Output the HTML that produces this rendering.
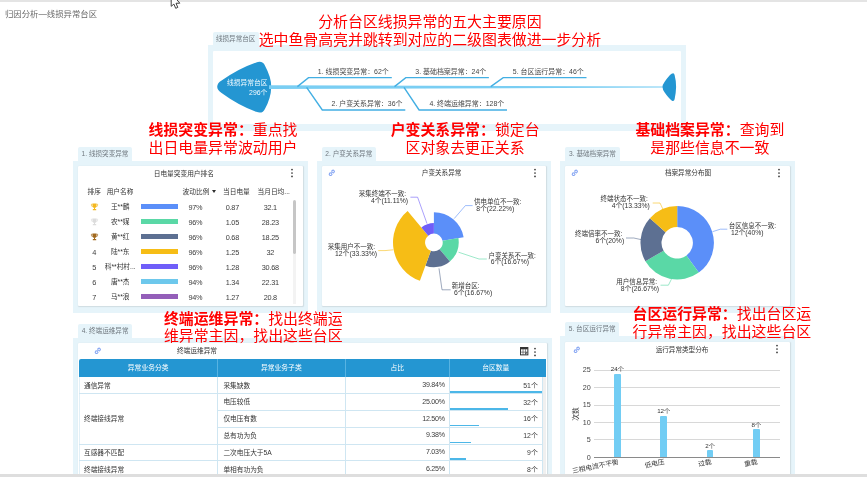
<!DOCTYPE html>
<html lang="zh-CN"><head><meta charset="utf-8"><title>归因分析—线损异常台区</title>
<style>
html,body{margin:0;padding:0}
body{width:867px;height:477px;overflow:hidden;background:#fff;position:relative;font-family:"Liberation Sans","Noto Sans CJK SC",sans-serif}
.t{position:absolute;white-space:nowrap;line-height:1}
.tab{position:absolute;background:#e6f4fa;border-radius:2px 2px 0 0}
.pan{position:absolute;background:#e6f4fa}
.card{position:absolute;background:#fff;border-radius:1px;box-shadow:0.4px 0.4px 1.2px rgba(0,0,0,.10)}
.ic{position:absolute;overflow:visible}
.red{position:absolute;color:#ff0000;font-size:14.9px;line-height:17.8px;white-space:nowrap;text-align:center}
.red b{font-weight:700}
svg{position:absolute;left:0;top:0}
svg text{font-family:"Liberation Sans","Noto Sans CJK SC",sans-serif}
.row{position:absolute;left:79px;height:1px;background:#cfe6f2}
</style></head><body>

<div style="position:absolute;left:0;top:0;width:867px;height:2.3px;background:#e4e4e4"></div>
<div class="t" style="left:5px;top:14.2px;font-size:8.4px;color:#6a6a6a;transform:translate(0,-50%);">归因分析—线损异常台区</div>
<svg width="13" height="11" style="left:169px;top:0" viewBox="0 0 13 11"><path d="M2.2 -7L2.2 6.3L4.9 4.1L6.7 8.3L8.8 7.4L7 3.3L10.8 3.2Z" fill="#fff" stroke="#3a3a3a" stroke-width="0.95"/></svg>
<div class="tab" style="left:212.6px;top:32px;width:46.20000000000002px;height:14.25px"></div>
<div class="t" style="left:235.7px;top:38.925px;font-size:6.6px;color:#70787f;transform:translate(-50%,-50%);">线损异常台区</div>
<div class="pan" style="left:208px;top:45.25px;width:477.70000000000005px;height:85.75px"></div>
<div class="card" style="left:213px;top:50.8px;width:467.65px;height:73.10000000000001px;box-shadow:none"></div>
<svg width="867" height="477" viewBox="0 0 867 477">
<path d="M217.2 86.8 Q217.3 83.2 221.6 80.6 Q238.5 68.6 256.2 62.5 Q262.6 60.3 264.9 65.6 Q271.5 78 271.2 87.2 Q271 98 264.9 108.9 Q262.6 114.2 256.2 111.8 Q238.5 105.4 221.6 93 Q217.3 90.4 217.2 86.8Z" fill="#2496d2"/>
<path d="M269 85.2L663 86.6L663 87.6L269 89Z" fill="#7acef3"/>
<path d="M662.5 87.1 Q662.6 84.5 664.5 82 Q668.5 76 671.6 73.8 Q674 72.2 674.6 75 Q676.2 81 676.1 87.1 Q676 93 674.6 99.2 Q674 102 671.6 100.4 Q668.5 98 664.5 92.2 Q662.6 89.7 662.5 87.1Z" fill="#2496d2"/>
<polyline points="297.4,86.6 308.5,77.6 391.8,77.6" fill="none" stroke="#43afe3" stroke-width="1.4"/>
<polyline points="394.5,86.6 405.8,77.6 488.9,77.6" fill="none" stroke="#43afe3" stroke-width="1.4"/>
<polyline points="490.7,86.6 503.2,77.6 586.5,77.6" fill="none" stroke="#43afe3" stroke-width="1.4"/>
<polyline points="306.6,87.4 322.3,110 405.3,110" fill="none" stroke="#43afe3" stroke-width="1.4"/>
<polyline points="404,87.4 419.1,110 507,110" fill="none" stroke="#43afe3" stroke-width="1.4"/>
</svg>
<div class="t" style="left:267.5px;top:82.6px;font-size:6.75px;color:#f4fbff;transform:translate(-100%,-50%);">线损异常台区</div>
<div class="t" style="left:267.5px;top:92.8px;font-size:6.9px;color:#f4fbff;transform:translate(-100%,-50%);">296个</div>
<div class="t" style="left:353.3px;top:71.5px;font-size:6.95px;color:#474747;transform:translate(-50%,-50%);">1. 线损突变异常：62个</div>
<div class="t" style="left:450.8px;top:71.5px;font-size:6.95px;color:#474747;transform:translate(-50%,-50%);">3. 基础档案异常：24个</div>
<div class="t" style="left:548.3px;top:71.5px;font-size:6.95px;color:#474747;transform:translate(-50%,-50%);">5. 台区运行异常：46个</div>
<div class="t" style="left:367px;top:104.3px;font-size:6.95px;color:#474747;transform:translate(-50%,-50%);">2. 户变关系异常：36个</div>
<div class="t" style="left:466.8px;top:104.3px;font-size:6.95px;color:#474747;transform:translate(-50%,-50%);">4. 终端运维异常：128个</div>
<div class="tab" style="left:78px;top:147.2px;width:54px;height:14.350000000000023px"></div>
<div class="t" style="left:105.0px;top:154.175px;font-size:6.6px;color:#70787f;transform:translate(-50%,-50%);">1. 线损突变异常</div>
<div class="pan" style="left:73px;top:160.55px;width:235px;height:152.2px"></div>
<div class="card" style="left:78px;top:165.9px;width:225.3px;height:139.65px"></div>
<div class="t" style="left:183.8px;top:173.5px;font-size:6.7px;color:#333;transform:translate(-50%,-50%);">日电量突变用户排名</div>
<svg class="ic" style="left:289.7px;top:168.2px" width="4" height="10" viewBox="0 0 4 10"><circle cx="2" cy="1.6" r="0.85" fill="#333"/><circle cx="2" cy="5" r="0.85" fill="#333"/><circle cx="2" cy="8.4" r="0.85" fill="#333"/></svg>
<div class="t" style="left:94.3px;top:192.3px;font-size:6.7px;color:#333;transform:translate(-50%,-50%);">排序</div>
<div class="t" style="left:120px;top:192.3px;font-size:6.7px;color:#333;transform:translate(-50%,-50%);">用户名称</div>
<div class="t" style="left:182.6px;top:192.3px;font-size:6.7px;color:#333;transform:translate(0,-50%);">波动比例</div>
<div style="position:absolute;left:211.7px;top:189.9px;width:0;height:0;border-left:2.6px solid transparent;border-right:2.6px solid transparent;border-top:3.2px solid #2e2e2e"></div>
<div class="t" style="left:236.4px;top:192.3px;font-size:6.7px;color:#333;transform:translate(-50%,-50%);">当日电量</div>
<div class="t" style="left:273.7px;top:192.3px;font-size:6.7px;color:#333;transform:translate(-50%,-50%);">当月日均...</div>
<svg class="ic" style="left:90.9px;top:202.8px" width="7" height="8" viewBox="0 0 14 16"><path d="M3 1h8v5a4 4 0 0 1-8 0z" fill="#f4b81f"/><path d="M3 2.5H0.8v2a2.6 2.6 0 0 0 2.6 2.6M11 2.5h2.2v2a2.6 2.6 0 0 1-2.6 2.6" fill="none" stroke="#f4b81f" stroke-width="1.4"/><rect x="6" y="9.5" width="2" height="3" fill="#f4b81f"/><rect x="3.5" y="12.2" width="7" height="2.3" rx="0.6" fill="#f4b81f"/></svg>
<div class="t" style="left:120.2px;top:206.8px;font-size:6.7px;color:#333;transform:translate(-50%,-50%);">王**麟</div>
<div style="position:absolute;left:140.6px;top:204.4px;width:37.8px;height:5px;background:#5b8ff9"></div>
<div class="t" style="left:195.4px;top:207.60000000000002px;font-size:7.3px;color:#3c3c3c;transform:translate(-50%,-50%);letter-spacing:-0.25px;">97%</div>
<div class="t" style="left:232.4px;top:207.60000000000002px;font-size:7.3px;color:#3c3c3c;transform:translate(-50%,-50%);letter-spacing:-0.25px;">0.87</div>
<div class="t" style="left:270.3px;top:207.60000000000002px;font-size:7.3px;color:#3c3c3c;transform:translate(-50%,-50%);letter-spacing:-0.25px;">32.1</div>
<svg class="ic" style="left:90.9px;top:217.8px" width="7" height="8" viewBox="0 0 14 16"><path d="M3 1h8v5a4 4 0 0 1-8 0z" fill="#dcdcdc"/><path d="M3 2.5H0.8v2a2.6 2.6 0 0 0 2.6 2.6M11 2.5h2.2v2a2.6 2.6 0 0 1-2.6 2.6" fill="none" stroke="#dcdcdc" stroke-width="1.4"/><rect x="6" y="9.5" width="2" height="3" fill="#dcdcdc"/><rect x="3.5" y="12.2" width="7" height="2.3" rx="0.6" fill="#dcdcdc"/></svg>
<div class="t" style="left:120.2px;top:221.8px;font-size:6.7px;color:#333;transform:translate(-50%,-50%);">农**媒</div>
<div style="position:absolute;left:140.6px;top:219.4px;width:37.8px;height:5px;background:#5ad8a6"></div>
<div class="t" style="left:195.4px;top:222.60000000000002px;font-size:7.3px;color:#3c3c3c;transform:translate(-50%,-50%);letter-spacing:-0.25px;">96%</div>
<div class="t" style="left:232.4px;top:222.60000000000002px;font-size:7.3px;color:#3c3c3c;transform:translate(-50%,-50%);letter-spacing:-0.25px;">1.05</div>
<div class="t" style="left:270.3px;top:222.60000000000002px;font-size:7.3px;color:#3c3c3c;transform:translate(-50%,-50%);letter-spacing:-0.25px;">28.23</div>
<svg class="ic" style="left:90.9px;top:232.8px" width="7" height="8" viewBox="0 0 14 16"><path d="M3 1h8v5a4 4 0 0 1-8 0z" fill="#a2691d"/><path d="M3 2.5H0.8v2a2.6 2.6 0 0 0 2.6 2.6M11 2.5h2.2v2a2.6 2.6 0 0 1-2.6 2.6" fill="none" stroke="#a2691d" stroke-width="1.4"/><rect x="6" y="9.5" width="2" height="3" fill="#a2691d"/><rect x="3.5" y="12.2" width="7" height="2.3" rx="0.6" fill="#a2691d"/></svg>
<div class="t" style="left:120.2px;top:236.8px;font-size:6.7px;color:#333;transform:translate(-50%,-50%);">黄**红</div>
<div style="position:absolute;left:140.6px;top:234.4px;width:37.8px;height:5px;background:#5d7092"></div>
<div class="t" style="left:195.4px;top:237.60000000000002px;font-size:7.3px;color:#3c3c3c;transform:translate(-50%,-50%);letter-spacing:-0.25px;">96%</div>
<div class="t" style="left:232.4px;top:237.60000000000002px;font-size:7.3px;color:#3c3c3c;transform:translate(-50%,-50%);letter-spacing:-0.25px;">0.68</div>
<div class="t" style="left:270.3px;top:237.60000000000002px;font-size:7.3px;color:#3c3c3c;transform:translate(-50%,-50%);letter-spacing:-0.25px;">18.25</div>
<div class="t" style="left:94.4px;top:252.60000000000002px;font-size:7.4px;color:#3c3c3c;transform:translate(-50%,-50%);">4</div>
<div class="t" style="left:120.2px;top:251.8px;font-size:6.7px;color:#333;transform:translate(-50%,-50%);">陆**东</div>
<div style="position:absolute;left:140.6px;top:249.4px;width:37.8px;height:5px;background:#f6bd16"></div>
<div class="t" style="left:195.4px;top:252.60000000000002px;font-size:7.3px;color:#3c3c3c;transform:translate(-50%,-50%);letter-spacing:-0.25px;">96%</div>
<div class="t" style="left:232.4px;top:252.60000000000002px;font-size:7.3px;color:#3c3c3c;transform:translate(-50%,-50%);letter-spacing:-0.25px;">1.25</div>
<div class="t" style="left:270.3px;top:252.60000000000002px;font-size:7.3px;color:#3c3c3c;transform:translate(-50%,-50%);letter-spacing:-0.25px;">32</div>
<div class="t" style="left:94.4px;top:267.6px;font-size:7.4px;color:#3c3c3c;transform:translate(-50%,-50%);">5</div>
<div class="t" style="left:120.2px;top:266.8px;font-size:6.7px;color:#333;transform:translate(-50%,-50%);">科**村村...</div>
<div style="position:absolute;left:140.6px;top:264.40000000000003px;width:37.8px;height:5px;background:#6f5ef9"></div>
<div class="t" style="left:195.4px;top:267.6px;font-size:7.3px;color:#3c3c3c;transform:translate(-50%,-50%);letter-spacing:-0.25px;">96%</div>
<div class="t" style="left:232.4px;top:267.6px;font-size:7.3px;color:#3c3c3c;transform:translate(-50%,-50%);letter-spacing:-0.25px;">1.28</div>
<div class="t" style="left:270.3px;top:267.6px;font-size:7.3px;color:#3c3c3c;transform:translate(-50%,-50%);letter-spacing:-0.25px;">30.68</div>
<div class="t" style="left:94.4px;top:282.6px;font-size:7.4px;color:#3c3c3c;transform:translate(-50%,-50%);">6</div>
<div class="t" style="left:120.2px;top:281.8px;font-size:6.7px;color:#333;transform:translate(-50%,-50%);">唐**杰</div>
<div style="position:absolute;left:140.6px;top:279.40000000000003px;width:37.8px;height:5px;background:#6dc8ec"></div>
<div class="t" style="left:195.4px;top:282.6px;font-size:7.3px;color:#3c3c3c;transform:translate(-50%,-50%);letter-spacing:-0.25px;">94%</div>
<div class="t" style="left:232.4px;top:282.6px;font-size:7.3px;color:#3c3c3c;transform:translate(-50%,-50%);letter-spacing:-0.25px;">1.34</div>
<div class="t" style="left:270.3px;top:282.6px;font-size:7.3px;color:#3c3c3c;transform:translate(-50%,-50%);letter-spacing:-0.25px;">22.31</div>
<div class="t" style="left:94.4px;top:297.6px;font-size:7.4px;color:#3c3c3c;transform:translate(-50%,-50%);">7</div>
<div class="t" style="left:120.2px;top:296.8px;font-size:6.7px;color:#333;transform:translate(-50%,-50%);">马**浪</div>
<div style="position:absolute;left:140.6px;top:294.40000000000003px;width:37.8px;height:5px;background:#945fb9"></div>
<div class="t" style="left:195.4px;top:297.6px;font-size:7.3px;color:#3c3c3c;transform:translate(-50%,-50%);letter-spacing:-0.25px;">94%</div>
<div class="t" style="left:232.4px;top:297.6px;font-size:7.3px;color:#3c3c3c;transform:translate(-50%,-50%);letter-spacing:-0.25px;">1.27</div>
<div class="t" style="left:270.3px;top:297.6px;font-size:7.3px;color:#3c3c3c;transform:translate(-50%,-50%);letter-spacing:-0.25px;">20.8</div>
<div style="position:absolute;left:292.8px;top:199.6px;width:3.3px;height:54px;background:#c6c6c6;border-radius:1.6px"></div>
<div style="position:absolute;left:292.8px;top:253.6px;width:3.3px;height:50px;background:#f3f3f3"></div>
<div class="tab" style="left:321.7px;top:147.2px;width:54.19999999999999px;height:14.350000000000023px"></div>
<div class="t" style="left:348.79999999999995px;top:154.175px;font-size:6.6px;color:#70787f;transform:translate(-50%,-50%);">2. 户变关系异常</div>
<div class="pan" style="left:316.7px;top:160.55px;width:234.09999999999997px;height:152.2px"></div>
<div class="card" style="left:321.5px;top:165.9px;width:224.89999999999998px;height:139.65px"></div>
<svg class="ic" style="left:328.4px;top:169.20000000000002px" width="7.6" height="7.6" viewBox="0 0 16 16"><g fill="none" stroke="#86a6f3" stroke-width="2.3" stroke-linecap="round"><path d="M6.5 9.5L9.5 6.5"/><path d="M7.5 4.5l1.3-1.3a2.6 2.6 0 0 1 3.8 3.8L11.3 8.3"/><path d="M8.5 11.5l-1.3 1.3a2.6 2.6 0 0 1-3.8-3.8L4.7 7.7"/></g></svg>
<svg class="ic" style="left:533px;top:167.8px" width="4" height="10" viewBox="0 0 4 10"><circle cx="2" cy="1.6" r="0.85" fill="#333"/><circle cx="2" cy="5" r="0.85" fill="#333"/><circle cx="2" cy="8.4" r="0.85" fill="#333"/></svg>
<div class="t" style="left:441.6px;top:173px;font-size:6.6px;color:#333;transform:translate(-50%,-50%);">户变关系异常</div>
<svg width="867" height="477" viewBox="0 0 867 477">
<path d="M433.90 212.20A30.20 30.20 0 0 1 463.64 237.16L442.57 240.87A8.80 8.80 0 0 0 433.90 233.60Z" fill="#5b8ff9"/>
<path d="M458.37 238.08A24.85 24.85 0 0 1 449.87 261.44L439.56 249.14A8.80 8.80 0 0 0 442.57 240.87Z" fill="#5ad8a6"/>
<path d="M449.87 261.44A24.85 24.85 0 0 1 425.40 265.75L430.89 250.67A8.80 8.80 0 0 0 439.56 249.14Z" fill="#5d7092"/>
<path d="M419.91 280.83A40.90 40.90 0 0 1 407.61 211.07L428.24 235.66A8.80 8.80 0 0 0 430.89 250.67Z" fill="#f6bd16"/>
<path d="M421.37 227.46A19.50 19.50 0 0 1 433.90 222.90L433.90 233.60A8.80 8.80 0 0 0 428.24 235.66Z" fill="#6f5ef9"/>
<polyline points="454.2,218.6 465.4,205.6 472.6,205.6" fill="none" stroke="#5b8ff9" stroke-width="0.7" opacity="0.85"/>
<polyline points="458.5,252.2 479,259 486.8,259" fill="none" stroke="#5ad8a6" stroke-width="0.7" opacity="0.85"/>
<polyline points="439,268.4 442,289.8 450.6,289.8" fill="none" stroke="#5d7092" stroke-width="0.7" opacity="0.85"/>
<polyline points="393.3,249.8 385,250.6 378.2,250.6" fill="none" stroke="#f6bd16" stroke-width="0.7" opacity="0.85"/>
<polyline points="427,223.6 417.6,197.2 410.4,197.2" fill="none" stroke="#6f5ef9" stroke-width="0.7" opacity="0.85"/>
</svg>
<div class="t" style="left:474px;top:199.39999999999998px;font-size:6.5px;line-height:6.8px;color:#333;text-align:left;transform:translate(0,0)"><span style="">供电单位不一致:</span><br><span style="font-size:6.8px;padding-left:2.2px">8个(22.22%)</span></div>
<div class="t" style="left:488.6px;top:252.6px;font-size:6.5px;line-height:6.8px;color:#333;text-align:left;transform:translate(0,0)"><span style="">户变关系不一致:</span><br><span style="font-size:6.8px;padding-left:2.2px">6个(16.67%)</span></div>
<div class="t" style="left:451.8px;top:283.3px;font-size:6.5px;line-height:6.8px;color:#333;text-align:left;transform:translate(0,0)"><span style="">新增台区:</span><br><span style="font-size:6.8px;padding-left:2.2px">6个(16.67%)</span></div>
<div class="t" style="left:377px;top:244.0px;font-size:6.5px;line-height:6.8px;color:#333;text-align:right;transform:translate(-100%,0)"><span style="padding-right:2px">采集用户不一致:</span><br><span style="font-size:6.8px;">12个(33.33%)</span></div>
<div class="t" style="left:408.1px;top:190.89999999999998px;font-size:6.5px;line-height:6.8px;color:#333;text-align:right;transform:translate(-100%,0)"><span style="padding-right:2px">采集终端不一致:</span><br><span style="font-size:6.8px;">4个(11.11%)</span></div>
<div class="tab" style="left:565.4px;top:147.2px;width:54.200000000000045px;height:14.350000000000023px"></div>
<div class="t" style="left:592.5px;top:154.175px;font-size:6.6px;color:#70787f;transform:translate(-50%,-50%);">3. 基础档案异常</div>
<div class="pan" style="left:560.4px;top:160.55px;width:234.60000000000002px;height:152.2px"></div>
<div class="card" style="left:565.1px;top:165.9px;width:225.19999999999993px;height:139.65px"></div>
<svg class="ic" style="left:571.4px;top:169.4px" width="7.6" height="7.6" viewBox="0 0 16 16"><g fill="none" stroke="#86a6f3" stroke-width="2.3" stroke-linecap="round"><path d="M6.5 9.5L9.5 6.5"/><path d="M7.5 4.5l1.3-1.3a2.6 2.6 0 0 1 3.8 3.8L11.3 8.3"/><path d="M8.5 11.5l-1.3 1.3a2.6 2.6 0 0 1-3.8-3.8L4.7 7.7"/></g></svg>
<svg class="ic" style="left:776.5px;top:168px" width="4" height="10" viewBox="0 0 4 10"><circle cx="2" cy="1.6" r="0.85" fill="#333"/><circle cx="2" cy="5" r="0.85" fill="#333"/><circle cx="2" cy="8.4" r="0.85" fill="#333"/></svg>
<div class="t" style="left:688px;top:173.3px;font-size:6.6px;color:#333;transform:translate(-50%,-50%);">档案异常分布图</div>
<svg width="867" height="477" viewBox="0 0 867 477">
<path d="M677.20 206.10A36.70 36.70 0 0 1 698.77 272.49L686.43 255.50A15.70 15.70 0 0 0 677.20 227.10Z" fill="#5b8ff9"/>
<path d="M698.77 272.49A36.70 36.70 0 0 1 645.42 261.15L663.60 250.65A15.70 15.70 0 0 0 686.43 255.50Z" fill="#5ad8a6"/>
<path d="M645.42 261.15A36.70 36.70 0 0 1 649.93 218.24L665.53 232.29A15.70 15.70 0 0 0 663.60 250.65Z" fill="#5d7092"/>
<path d="M649.93 218.24A36.70 36.70 0 0 1 677.20 206.10L677.20 227.10A15.70 15.70 0 0 0 665.53 232.29Z" fill="#f6bd16"/>
<polyline points="712.5,231.7 720.3,229.2 727.3,229.2" fill="none" stroke="#5b8ff9" stroke-width="0.7" opacity="0.85"/>
<polyline points="671.5,279 668.4,285.2 660.5,285.2" fill="none" stroke="#5ad8a6" stroke-width="0.7" opacity="0.85"/>
<polyline points="641,239.6 633.8,238 626,238" fill="none" stroke="#5d7092" stroke-width="0.7" opacity="0.85"/>
<polyline points="663,209.4 660,203 652.7,203" fill="none" stroke="#f6bd16" stroke-width="0.7" opacity="0.85"/>
</svg>
<div class="t" style="left:728.8px;top:223.0px;font-size:6.5px;line-height:6.8px;color:#333;text-align:left;transform:translate(0,0)"><span style="">台区信息不一致:</span><br><span style="font-size:6.8px;padding-left:2.2px">12个(40%)</span></div>
<div class="t" style="left:659px;top:278.8px;font-size:6.5px;line-height:6.8px;color:#333;text-align:right;transform:translate(-100%,0)"><span style="padding-right:2px">用户信息异常:</span><br><span style="font-size:6.8px;">8个(26.67%)</span></div>
<div class="t" style="left:624.2px;top:231.29999999999998px;font-size:6.5px;line-height:6.8px;color:#333;text-align:right;transform:translate(-100%,0)"><span style="padding-right:2px">终端倍率不一致:</span><br><span style="font-size:6.8px;">6个(20%)</span></div>
<div class="t" style="left:649.8px;top:195.89999999999998px;font-size:6.5px;line-height:6.8px;color:#333;text-align:right;transform:translate(-100%,0)"><span style="padding-right:2px">终端状态不一致:</span><br><span style="font-size:6.8px;">4个(13.33%)</span></div>
<div class="tab" style="left:78px;top:324px;width:54.19999999999999px;height:14.600000000000023px"></div>
<div class="t" style="left:105.1px;top:331.1px;font-size:6.6px;color:#70787f;transform:translate(-50%,-50%);">4. 终端运维异常</div>
<div class="pan" style="left:73px;top:337.6px;width:478.79999999999995px;height:142.39999999999998px"></div>
<div class="card" style="left:78.3px;top:343.2px;width:468.59999999999997px;height:136.8px"></div>
<svg class="ic" style="left:94.30000000000001px;top:347.29999999999995px" width="7.6" height="7.6" viewBox="0 0 16 16"><g fill="none" stroke="#86a6f3" stroke-width="2.3" stroke-linecap="round"><path d="M6.5 9.5L9.5 6.5"/><path d="M7.5 4.5l1.3-1.3a2.6 2.6 0 0 1 3.8 3.8L11.3 8.3"/><path d="M8.5 11.5l-1.3 1.3a2.6 2.6 0 0 1-3.8-3.8L4.7 7.7"/></g></svg>
<div class="t" style="left:197px;top:351px;font-size:6.7px;color:#333;transform:translate(-50%,-50%);">终端运维异常</div>
<svg class="ic" style="left:533.3px;top:346.5px" width="4" height="10" viewBox="0 0 4 10"><circle cx="2" cy="1.6" r="0.85" fill="#333"/><circle cx="2" cy="5" r="0.85" fill="#333"/><circle cx="2" cy="8.4" r="0.85" fill="#333"/></svg>
<svg class="ic" style="left:519.6px;top:347.4px" width="8.4" height="8.4" viewBox="0 0 16 16"><rect x="1" y="1" width="14" height="14" fill="none" stroke="#333" stroke-width="1.9"/><rect x="1" y="1" width="14" height="3.4" fill="#333"/><path d="M1 9.8H15M5.8 4V15M10.4 4V15" stroke="#444" stroke-width="1.2" fill="none"/><path d="M9.5 12.2h3.2v-2.6" stroke="#333" stroke-width="1.3" fill="none"/></svg>
<div style="position:absolute;left:79px;top:358.7px;width:466.7px;height:18.1px;background:#2496d2;border-radius:2px 0 0 0"></div>
<div style="position:absolute;left:542.2px;top:376.8px;width:3.5px;height:100px;background:#f0f0f0"></div>
<div style="position:absolute;left:216.9px;top:358.7px;width:1px;height:18.1px;background:#57b3e2"></div>
<div style="position:absolute;left:216.9px;top:376.8px;width:1px;height:100px;background:#cfe6f2"></div>
<div style="position:absolute;left:344.7px;top:358.7px;width:1px;height:18.1px;background:#57b3e2"></div>
<div style="position:absolute;left:344.7px;top:376.8px;width:1px;height:100px;background:#cfe6f2"></div>
<div style="position:absolute;left:449.0px;top:358.7px;width:1px;height:18.1px;background:#57b3e2"></div>
<div style="position:absolute;left:449.0px;top:376.8px;width:1px;height:100px;background:#cfe6f2"></div>
<div style="position:absolute;left:78.6px;top:376.8px;width:1px;height:100px;background:#e2f0f7"></div>
<div style="position:absolute;left:541.7px;top:376.8px;width:1px;height:100px;background:#cfe6f2"></div>
<div class="t" style="left:148.2px;top:367.5px;font-size:6.8px;color:#fff;transform:translate(-50%,-50%);">异常业务分类</div>
<div class="t" style="left:281.3px;top:367.5px;font-size:6.8px;color:#fff;transform:translate(-50%,-50%);">异常业务子类</div>
<div class="t" style="left:397.3px;top:367.5px;font-size:6.8px;color:#fff;transform:translate(-50%,-50%);">占比</div>
<div class="t" style="left:495.8px;top:367.5px;font-size:6.8px;color:#fff;transform:translate(-50%,-50%);">台区数量</div>
<div class="row" style="left:79px;top:393.1px;width:463.20000000000005px"></div>
<div class="row" style="left:217.4px;top:409.90000000000003px;width:324.80000000000007px"></div>
<div class="row" style="left:217.4px;top:426.70000000000005px;width:324.80000000000007px"></div>
<div class="row" style="left:79px;top:443.5px;width:463.20000000000005px"></div>
<div class="row" style="left:79px;top:460.3px;width:463.20000000000005px"></div>
<div class="t" style="left:223.4px;top:385.6px;font-size:6.7px;color:#333;transform:translate(0,-50%);">采集缺数</div>
<div class="t" style="left:444.8px;top:385.90000000000003px;font-size:7.1px;color:#3c3c3c;transform:translate(-100%,-50%);letter-spacing:-0.25px;">39.84%</div>
<div class="t" style="left:537.8px;top:385.8px;font-size:6.9px;color:#3c3c3c;transform:translate(-100%,-50%);">51个</div>
<div style="position:absolute;left:449.5px;top:391.20000000000005px;width:92.4px;height:1.6px;background:#4cb7e8"></div>
<div class="t" style="left:223.4px;top:402.40000000000003px;font-size:6.7px;color:#333;transform:translate(0,-50%);">电压较低</div>
<div class="t" style="left:444.8px;top:402.70000000000005px;font-size:7.1px;color:#3c3c3c;transform:translate(-100%,-50%);letter-spacing:-0.25px;">25.00%</div>
<div class="t" style="left:537.8px;top:402.6px;font-size:6.9px;color:#3c3c3c;transform:translate(-100%,-50%);">32个</div>
<div style="position:absolute;left:449.5px;top:408.00000000000006px;width:58.0px;height:1.6px;background:#4cb7e8"></div>
<div class="t" style="left:223.4px;top:419.20000000000005px;font-size:6.7px;color:#333;transform:translate(0,-50%);">仅电压有数</div>
<div class="t" style="left:444.8px;top:419.50000000000006px;font-size:7.1px;color:#3c3c3c;transform:translate(-100%,-50%);letter-spacing:-0.25px;">12.50%</div>
<div class="t" style="left:537.8px;top:419.40000000000003px;font-size:6.9px;color:#3c3c3c;transform:translate(-100%,-50%);">16个</div>
<div style="position:absolute;left:449.5px;top:424.80000000000007px;width:29.0px;height:1.6px;background:#4cb7e8"></div>
<div class="t" style="left:223.4px;top:436.00000000000006px;font-size:6.7px;color:#333;transform:translate(0,-50%);">总有功为负</div>
<div class="t" style="left:444.8px;top:436.30000000000007px;font-size:7.1px;color:#3c3c3c;transform:translate(-100%,-50%);letter-spacing:-0.25px;">9.38%</div>
<div class="t" style="left:537.8px;top:436.20000000000005px;font-size:6.9px;color:#3c3c3c;transform:translate(-100%,-50%);">12个</div>
<div style="position:absolute;left:449.5px;top:441.6px;width:21.7px;height:1.6px;background:#4cb7e8"></div>
<div class="t" style="left:223.4px;top:452.8px;font-size:6.7px;color:#333;transform:translate(0,-50%);">二次电压大于5A</div>
<div class="t" style="left:444.8px;top:453.1px;font-size:7.1px;color:#3c3c3c;transform:translate(-100%,-50%);letter-spacing:-0.25px;">7.03%</div>
<div class="t" style="left:537.8px;top:453.0px;font-size:6.9px;color:#3c3c3c;transform:translate(-100%,-50%);">9个</div>
<div style="position:absolute;left:449.5px;top:458.40000000000003px;width:16.3px;height:1.6px;background:#4cb7e8"></div>
<div class="t" style="left:223.4px;top:469.6px;font-size:6.7px;color:#333;transform:translate(0,-50%);">单相有功为负</div>
<div class="t" style="left:444.8px;top:469.90000000000003px;font-size:7.1px;color:#3c3c3c;transform:translate(-100%,-50%);letter-spacing:-0.25px;">6.25%</div>
<div class="t" style="left:537.8px;top:469.8px;font-size:6.9px;color:#3c3c3c;transform:translate(-100%,-50%);">8个</div>
<div style="position:absolute;left:449.5px;top:475.20000000000005px;width:14.5px;height:1.6px;background:#4cb7e8"></div>
<div class="t" style="left:84px;top:385.6px;font-size:6.7px;color:#333;transform:translate(0,-50%);">通信异常</div>
<div class="t" style="left:84px;top:419.2px;font-size:6.7px;color:#333;transform:translate(0,-50%);">终端接线异常</div>
<div class="t" style="left:84px;top:452.8px;font-size:6.7px;color:#333;transform:translate(0,-50%);">互感器不匹配</div>
<div class="t" style="left:84px;top:469.6px;font-size:6.7px;color:#333;transform:translate(0,-50%);">终端接线异常</div>
<div class="tab" style="left:565.2px;top:322.2px;width:54.0px;height:14.5px"></div>
<div class="t" style="left:592.2px;top:329.25px;font-size:6.6px;color:#70787f;transform:translate(-50%,-50%);">5. 台区运行异常</div>
<div class="pan" style="left:560.4px;top:335.7px;width:234.60000000000002px;height:144.3px"></div>
<div class="card" style="left:565.1px;top:341.5px;width:225.10000000000002px;height:138.5px"></div>
<svg class="ic" style="left:572.6px;top:346.09999999999997px" width="7.6" height="7.6" viewBox="0 0 16 16"><g fill="none" stroke="#86a6f3" stroke-width="2.3" stroke-linecap="round"><path d="M6.5 9.5L9.5 6.5"/><path d="M7.5 4.5l1.3-1.3a2.6 2.6 0 0 1 3.8 3.8L11.3 8.3"/><path d="M8.5 11.5l-1.3 1.3a2.6 2.6 0 0 1-3.8-3.8L4.7 7.7"/></g></svg>
<svg class="ic" style="left:775.2px;top:344.3px" width="4" height="10" viewBox="0 0 4 10"><circle cx="2" cy="1.6" r="0.85" fill="#333"/><circle cx="2" cy="5" r="0.85" fill="#333"/><circle cx="2" cy="8.4" r="0.85" fill="#333"/></svg>
<div class="t" style="left:682px;top:349.6px;font-size:6.6px;color:#333;transform:translate(-50%,-50%);">运行异常类型分布</div>
<div style="position:absolute;left:594.2px;top:456.9px;width:185.4px;height:1px;background:#8a8a8a"></div>
<div class="t" style="left:590.8px;top:457.59999999999997px;font-size:7.2px;color:#444;transform:translate(-100%,-50%);">0</div>
<div style="position:absolute;left:594.2px;top:439.45px;width:185.4px;height:1px;background:#d8d8d8"></div>
<div class="t" style="left:590.8px;top:440.15px;font-size:7.2px;color:#444;transform:translate(-100%,-50%);">5</div>
<div style="position:absolute;left:594.2px;top:422.0px;width:185.4px;height:1px;background:#d8d8d8"></div>
<div class="t" style="left:590.8px;top:422.7px;font-size:7.2px;color:#444;transform:translate(-100%,-50%);">10</div>
<div style="position:absolute;left:594.2px;top:404.54999999999995px;width:185.4px;height:1px;background:#d8d8d8"></div>
<div class="t" style="left:590.8px;top:405.24999999999994px;font-size:7.2px;color:#444;transform:translate(-100%,-50%);">15</div>
<div style="position:absolute;left:594.2px;top:387.09999999999997px;width:185.4px;height:1px;background:#d8d8d8"></div>
<div class="t" style="left:590.8px;top:387.79999999999995px;font-size:7.2px;color:#444;transform:translate(-100%,-50%);">20</div>
<div style="position:absolute;left:594.2px;top:369.65px;width:185.4px;height:1px;background:#d8d8d8"></div>
<div class="t" style="left:590.8px;top:370.34999999999997px;font-size:7.2px;color:#444;transform:translate(-100%,-50%);">25</div>
<div class="t" style="left:576.4px;top:413.8px;font-size:6.7px;color:#333;transform:translate(-50%,-50%);transform:translate(-50%,-50%) rotate(-90deg);">次数</div>
<div style="position:absolute;left:613.975px;top:373.64px;width:6.8px;height:83.76px;background:#72cdf4;border-radius:1px 1px 0 0"></div>
<div class="t" style="left:617.375px;top:369.03999999999996px;font-size:6.2px;color:#333;transform:translate(-50%,-50%);">24个</div>
<div class="t" style="left:617.875px;top:459.2px;font-size:6.75px;color:#333;transform:translate(-100%,0) rotate(-11.5deg);transform-origin:100% 0">三相电流不平衡</div>
<div style="position:absolute;left:660.325px;top:415.52px;width:6.8px;height:41.88px;background:#72cdf4;border-radius:1px 1px 0 0"></div>
<div class="t" style="left:663.725px;top:410.91999999999996px;font-size:6.2px;color:#333;transform:translate(-50%,-50%);">12个</div>
<div class="t" style="left:664.225px;top:459.2px;font-size:6.75px;color:#333;transform:translate(-100%,0) rotate(-11.5deg);transform-origin:100% 0">低电压</div>
<div style="position:absolute;left:706.6750000000001px;top:450.41999999999996px;width:6.8px;height:6.98px;background:#72cdf4;border-radius:1px 1px 0 0"></div>
<div class="t" style="left:710.075px;top:445.81999999999994px;font-size:6.2px;color:#333;transform:translate(-50%,-50%);">2个</div>
<div class="t" style="left:710.575px;top:459.2px;font-size:6.75px;color:#333;transform:translate(-100%,0) rotate(-11.5deg);transform-origin:100% 0">过载</div>
<div style="position:absolute;left:753.0250000000001px;top:429.47999999999996px;width:6.8px;height:27.92px;background:#72cdf4;border-radius:1px 1px 0 0"></div>
<div class="t" style="left:756.4250000000001px;top:424.87999999999994px;font-size:6.2px;color:#333;transform:translate(-50%,-50%);">8个</div>
<div class="t" style="left:756.9250000000001px;top:459.2px;font-size:6.75px;color:#333;transform:translate(-100%,0) rotate(-11.5deg);transform-origin:100% 0">重载</div>
<div class="red" style="left:257.4px;top:14.1px;width:345.0px;height:36px;">分析台区线损异常的五大主要原因<br>选中鱼骨高亮并跳转到对应的二级图表做进一步分析</div>
<div class="red" style="left:148.0px;top:122.0px;width:150.0px;height:36px;"><b>线损突变异常：</b>重点找<br>出日电量异常波动用户</div>
<div class="red" style="left:389.6px;top:122.0px;width:151.0px;height:36px;"><b>户变关系异常：</b>锁定台<br>区对象去更正关系</div>
<div class="red" style="left:635.1px;top:122.0px;width:149.5px;height:36px;"><b>基础档案异常：</b>查询到<br>是那些信息不一致</div>
<div class="red" style="left:163.3px;top:310.5px;width:180.0px;height:36px;"><b>终端运维异常：</b>找出终端运<br>维异常主因，找出这些台区</div>
<div class="red" style="left:631.6px;top:305.9px;width:180.5px;height:36px;"><b>台区运行异常：</b>找出台区运<br>行异常主因，找出这些台区</div>
<div style="position:absolute;left:0;top:473.7px;width:867px;height:4px;background:#dedede"></div>
</body></html>
